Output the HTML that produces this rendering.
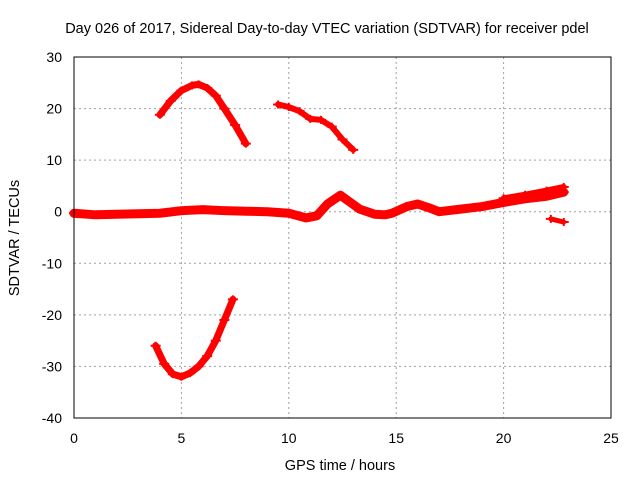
<!DOCTYPE html>
<html><head><meta charset="utf-8"><style>
body{margin:0;background:#fff}
svg{display:block;font-family:"Liberation Sans",sans-serif}
</style></head><body>
<svg id="c" width="640" height="480">
<text x="327" y="33" font-size="14.5" text-anchor="middle">Day 026 of 2017, Sidereal Day-to-day VTEC variation (SDTVAR) for receiver pdel</text>
<text x="340" y="470" font-size="14.5" text-anchor="middle">GPS time / hours</text>
<text transform="translate(19,238) rotate(-90)" font-size="14.5" text-anchor="middle">SDTVAR / TECUs</text>
<g id="grid"></g><g id="marks"></g>
<rect x="74" y="57" width="537" height="361" fill="none" stroke="#000"/>
</svg>
<script>
const xTicks=[0,5,10,15,20,25];
const yTicks=[30,20,10,0,-10,-20,-30,-40];
const arcHours=[4.0,4.5,5.0,5.5,5.8,6.2,6.6,7.0,7.5,8.0];
const arcValues=[18.8,21.5,23.5,24.5,24.7,24.0,22.5,20.0,16.8,13.2];
const arc2Hours=[9.5,10,10.5,11,11.5,12,12.5,13];
const arc2Values=[20.8,20.3,19.5,18,17.8,16.5,14,12];
const lowHours=[3.8,4.2,4.6,5.0,5.4,5.8,6.2,6.6,7.0,7.4];
const lowValues=[-26,-29.5,-31.5,-32,-31.3,-30,-28,-25,-21,-17];
const mainHours=[0,1,2,3,4,5,6,7,8,9,10,10.8,11.3,11.8,12.4,12.8,13.3,14,14.5,14.8,15.5,16,16.5,17,18,19,20,21,22,22.8];
const mainValues=[-0.3,-0.6,-0.5,-0.4,-0.3,0.2,0.4,0.2,0.1,0,-0.3,-1.2,-0.8,1.5,3.2,2,0.5,-0.5,-0.6,-0.3,1,1.5,0.8,0,0.5,1,1.8,2.5,3,3.8];
const upperHours=[20,21,22,22.8];
const upperValues=[2.6,3.3,4.1,4.8];
const stubHours=[22.2,22.8];
const stubValues=[-1.4,-2];
const X=h=>74+h*537/25, Y=v=>57+(30-v)*361/70;
const ns="http://www.w3.org/2000/svg";
const g=document.getElementById('grid'), m=document.getElementById('marks');
function el(t,a,p){const e=document.createElementNS(ns,t);for(const k in a)e.setAttribute(k,a[k]);p.appendChild(e);return e;}
xTicks.forEach(t=>{
 if(t>0&&t<25){const l=el('line',{x1:X(t),x2:X(t),y1:57,y2:418,stroke:'#a0a0a0','stroke-dasharray':'2,3'},g);
 
 }
 const s=el('text',{x:X(t),y:443,'font-size':14,'text-anchor':'middle'},g);s.textContent=t;
 
 
});
yTicks.forEach(t=>{
 if(t<30&&t>-40){const l=el('line',{x1:74,x2:611,y1:Y(t),y2:Y(t),stroke:'#a0a0a0','stroke-dasharray':'2,3'},g);
 
 }
 const s=el('text',{x:62,y:Y(t)+5,'font-size':14,'text-anchor':'end'},g);s.textContent=t;
 
 
});
function series(hs,vs,w,name){
 const p=el('polyline',{points:hs.map((h,i)=>X(h)+','+Y(vs[i])).join(' '),fill:'none',stroke:'#f00','stroke-width':w,'stroke-linejoin':'round','stroke-linecap':'round'},m);
 
 
 hs.forEach((h,i)=>{const x=X(h),y=Y(vs[i]);
  const q=el('path',{d:`M${x-5},${y}h10M${x},${y-4}v8`,stroke:'#f00','stroke-width':2},m);
  
  });
}
series(arcHours,arcValues,7,'upper-arc-series');
series(arc2Hours,arc2Values,6,'second-arc-series');
series(lowHours,lowValues,7,'lower-arc-series');
series(mainHours,mainValues,9,'main-band-series');
series(upperHours,upperValues,6,'upper-band-series');
series(stubHours,stubValues,5,'stub-series');
</script>
</body></html>
